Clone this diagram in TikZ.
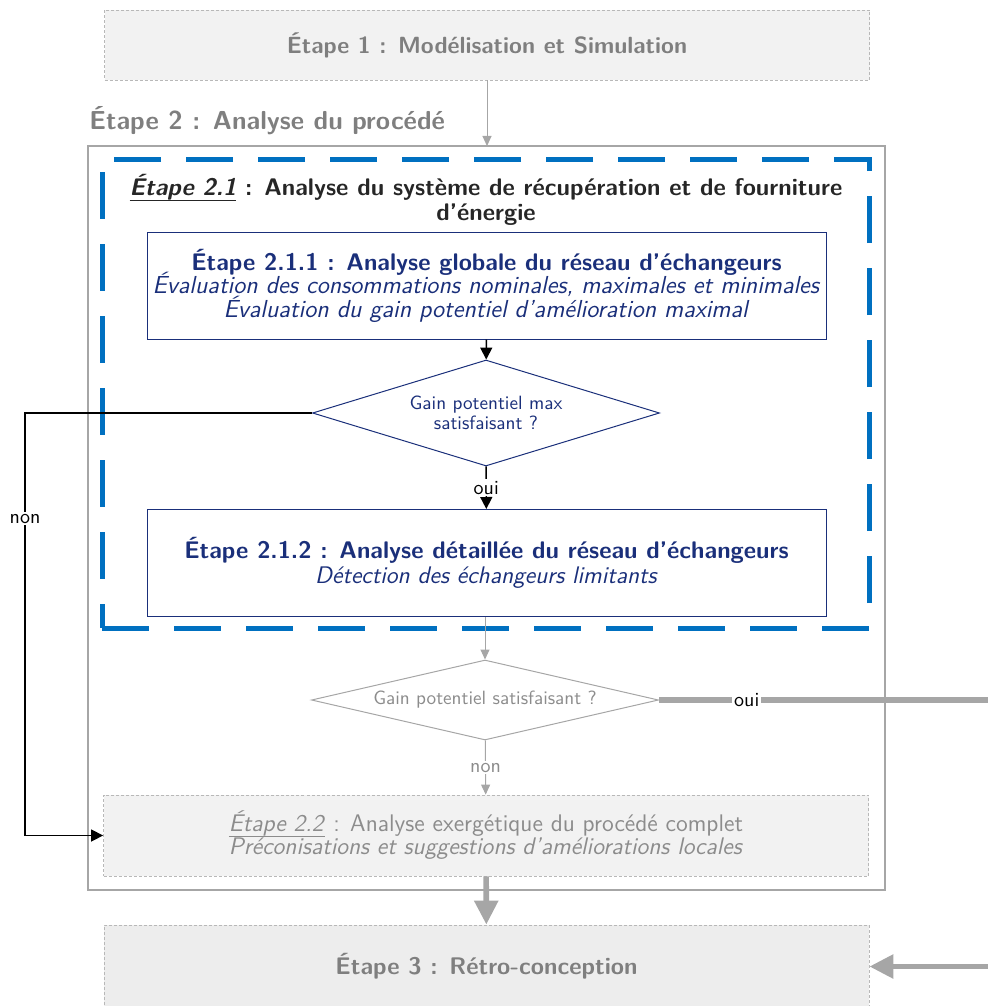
\documentclass[tikz,border=0pt]{standalone}
\usepackage{tikz}
\usetikzlibrary{arrows,positioning}
\usetikzlibrary{shapes.geometric,arrows.meta,calc}
\renewcommand{\familydefault}{\sfdefault}
\definecolor{etapegray}{HTML}{7F7F7F}
\definecolor{softgray}{HTML}{A6A6A6}
\definecolor{paletext}{HTML}{8C8C8C}
\definecolor{etapefill}{HTML}{F2F2F2}
\definecolor{etapefilldark}{HTML}{EDEDED}
\definecolor{dashblue}{HTML}{0070C0}
\definecolor{navy}{HTML}{1A2F7A}
\definecolor{darktext}{HTML}{262626}
\newcommand{\souligne}[1]{\setbox0\hbox{#1}\rlap{\rule[-2.5pt]{\wd0}{0.45pt}}\box0\relax}

\begin{document}
\fontsize{12}{12}\selectfont
\setlength{\lineskiplimit}{-10pt}
\begin{tikzpicture}[x=0.5pt, y=-0.5pt,
    etape/.style={draw=softgray!80, line width=0.4pt, dash pattern=on 1.5pt off 1pt, fill=etapefill, inner sep=0pt, align=center, minimum width=382.5pt},
    navybox/.style={draw=navy, line width=0.5pt, text=navy, align=center, inner sep=0pt, minimum width=339.5pt, minimum height=53.5pt},
    test/.style={diamond, draw, line width=0.5pt, inner sep=0pt, align=center, font=\fontsize{9.6}{10}\selectfont, minimum width=173.5pt},
    blackarrow/.style={draw=black, line width=0.75pt, -{Triangle[length=6pt,width=6pt]}},
    grayarrow/.style={draw=softgray, line width=0.5pt, -{Triangle[length=5pt,width=4.5pt]}},
    bigarrow/.style={draw=softgray, line width=2.8pt, -{Triangle[length=12pt,width=11.5pt]}},
    answer/.style={fill=white, inner sep=1pt, font=\fontsize{10}{10}\selectfont}]
\useasboundingbox (0,0) rectangle (987,1006);

% etapes 1 et 2
\node at (487,45) [etape, minimum height=35pt, text=etapegray, font=\fontsize{11.7}{12}\selectfont\bfseries] (etape1) {Étape 1 : Modélisation et Simulation};
\node at (486.5,518) [draw=softgray, line width=1.3pt, outer sep=0pt, minimum width=398.5pt, minimum height=372pt] (etape2) {};
\node at (89,121) [anchor=west, inner sep=0pt, text=etapegray, font=\fontsize{13}{13}\selectfont\bfseries] (titre2) {Étape 2 : Analyse du procédé};

% etape 2.1
\node at (485.5,393.5) [inner sep=0pt, outer sep=0pt, minimum width=383.5pt, minimum height=234.5pt] (etape21) {};
\draw[dashblue, line width=2.5pt, dash pattern=on 23.5pt off 12.5pt] (etape21.south west) -- (etape21.south east) -- (etape21.north east) -- (etape21.north west) -- cycle;
\node at (486,200) [align=center, inner sep=0pt, text=darktext, font=\fontsize{12}{12.5}\selectfont\bfseries] (titre21) {\souligne{\textit{Étape 2.1}} : Analyse du système de récupération et de fourniture\\d'énergie};

\node at (486.5,285.5) [navybox, font=\fontsize{12.3}{11.75}\selectfont] (etape211) {{\fontsize{12}{11.75}\selectfont\textbf{Étape 2.1.1 : Analyse globale du réseau d'échangeurs}}\\ \textit{Évaluation des consommations nominales, maximales et minimales}\\ \textit{Évaluation du gain potentiel d'amélioration maximal}};
\node at (486,413) [test, draw=navy, text=navy, aspect=3.27, minimum height=53pt] (test1) {Gain potentiel max\\satisfaisant ?};
\node at (486.5,563) [navybox, font=\fontsize{12}{12.5}\selectfont] (etape212) {\textbf{Étape 2.1.2 : Analyse détaillée du réseau d'échangeurs}\\ \textit{Détection des échangeurs limitants}};

% suite etape 2
\node at (485,700) [test, draw=softgray, text=paletext, aspect=4.34, minimum height=40pt] (test2) {Gain potentiel satisfaisant ?};
\node at (486,835.5) [etape, minimum height=40.5pt, text=paletext, font=\fontsize{12}{11.5}\selectfont] (etape22) {\souligne{\textit{Étape 2.2}} : Analyse exergétique du procédé complet\\ \textit{Préconisations et suggestions d'améliorations locales}};

% etape 3
\node at (486.5,966.5) [etape, fill=etapefilldark, minimum height=41.5pt, text=etapegray, font=\bfseries] (etape3) {Étape 3 : Rétro-conception};

% liaisons
\coordinate (coude1) at (25,413);
\coordinate (coude2) at (1010,700);
\draw[grayarrow] (etape1.south) -- (etape1.south |- etape2.north);
\draw[blackarrow] (etape211) -- (test1);
\draw[blackarrow] (test1) -- node[answer] {oui} (etape212);
\draw[blackarrow] (test1.west) -- (coude1) |- node[answer, pos=.125] {non} (etape22.west);
\draw[grayarrow] (etape212.south -| test2.north) -- (test2.north);
\draw[bigarrow] (test2.east) -- node[answer, pos=.25] {oui} (coude2) |- (etape3.east);
\draw[grayarrow] (test2) -- node[answer, text=paletext] {non} (etape22);
\draw[bigarrow] (etape22) -- (etape3);
\end{tikzpicture}
\end{document}
